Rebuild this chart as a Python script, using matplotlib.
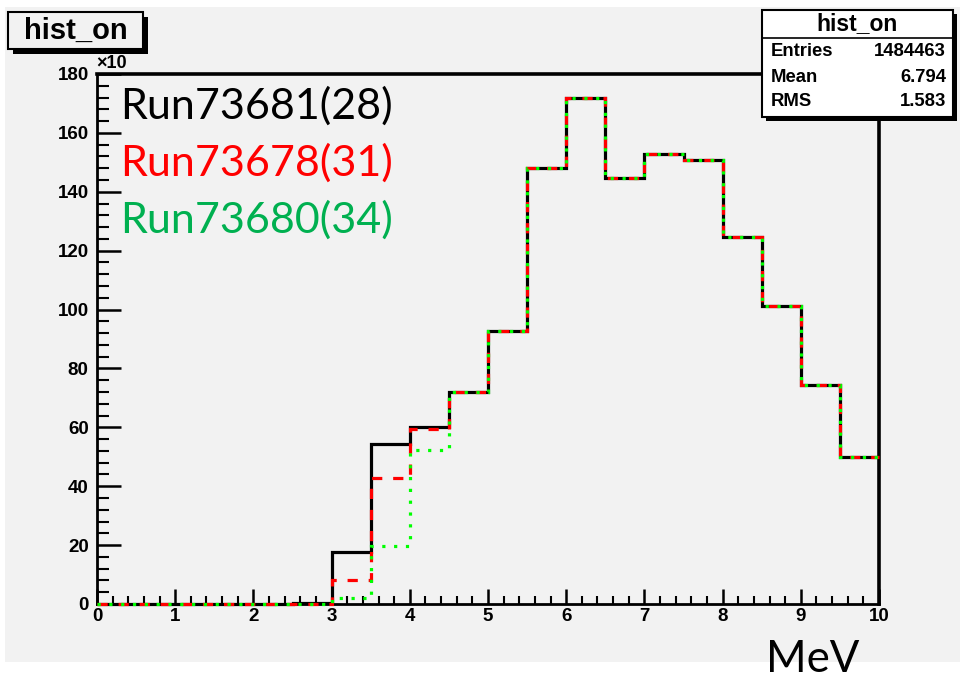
import matplotlib
matplotlib.use("Agg")
import matplotlib.pyplot as plt
import matplotlib.patches as mpatches
import numpy as np

# Histogram contents (units of x10 counts), 20 bins of 0.5 MeV from 0 to 10
bin_edges = np.linspace(0.0, 10.0, 21)
run73681 = [0, 0, 0, 0, 0, 0.4, 17.8, 54.2, 60.2, 72.0, 92.7, 148.0, 171.8, 144.8, 152.9, 150.7, 124.8, 101.1, 74.4, 50.0]
run73678 = [0, 0, 0, 0, 0, 0, 8.2, 42.7, 59.4, 72.0, 92.7, 148.0, 171.8, 144.8, 152.9, 150.7, 124.8, 101.1, 74.4, 50.0]
run73680 = [0, 0, 0, 0, 0, 0, 1.9, 19.8, 52.3, 72.0, 92.7, 148.0, 171.8, 144.8, 152.9, 150.7, 124.8, 101.1, 74.4, 50.0]
run_labels = ["Run73681(28)", "Run73678(31)", "Run73680(34)"]
run_colors = ["black", "#ff0000", "#00b050"]

hist_name = "hist_on"
stats_rows = [("Entries", "1484463"), ("Mean", "6.794"), ("RMS", "1.583")]
x_ticks = list(range(0, 11))
y_ticks = list(range(0, 181, 20))

W, H = 960, 677
BG = "#f2f2f2"
fig = plt.figure(figsize=(W / 100, H / 100), dpi=100)
fig.patch.set_facecolor("white")


def fx(x):
    return x / W


def fy(y):
    return 1 - y / H


def px_rect(x0, y0, x1, y1, **kw):
    r = mpatches.Rectangle((fx(x0), fy(y1)), fx(x1) - fx(x0), fy(y0) - fy(y1),
                           transform=fig.transFigure, **kw)
    fig.add_artist(r)
    return r


# canvas background
px_rect(5, 7, 960, 662, facecolor=BG, edgecolor="none", zorder=0)

ax = fig.add_axes([fx(97), fy(604), fx(879) - fx(97), fy(74) - fy(604)])
ax.set_facecolor(BG)
ax.set_xlim(0, 10)
ax.set_ylim(0, 180)

lw = 2.3
ax.stairs(run73681, bin_edges, color="black", lw=lw, baseline=None, zorder=3,
          clip_on=False)
ax.stairs(run73678, bin_edges, color="#ff0000", lw=lw, baseline=None, zorder=3.1,
          linestyle=(0, (3.2, 3.4)), clip_on=False)
ax.stairs(run73680, bin_edges, color="#00ff00", lw=lw, baseline=None, zorder=3.2,
          linestyle=(0, (1.0, 2.7)), clip_on=False)

for s in ["left", "bottom"]:
    ax.spines[s].set_linewidth(2.0)
for s in ["top", "right"]:
    ax.spines[s].set_linewidth(2.6)

tick_font = dict(family="Liberation Sans", weight="bold", size=13.5)
ax.set_xticks(x_ticks)
ax.set_xticklabels([str(t) for t in x_ticks], fontdict=tick_font)
ax.set_yticks(y_ticks)
ax.set_yticklabels([str(t) for t in y_ticks], fontdict=tick_font)
ax.set_xticks(np.arange(0, 10.01, 0.2), minor=True)
ax.set_yticks(np.arange(0, 180.1, 4), minor=True)
ax.tick_params(axis="x", which="major", direction="in", length=11, width=1.8, pad=3)
ax.tick_params(axis="x", which="minor", direction="in", length=5.5, width=1.5)
ax.tick_params(axis="y", which="major", direction="in", length=17, width=1.8, pad=6)
ax.tick_params(axis="y", which="minor", direction="in", length=8.5, width=1.5)
ax.tick_params(top=False, right=False, which="both")

# exponent label on y axis
fig.text(fx(96), fy(64), "\u00d710", fontsize=13, fontweight="bold",
         family="Liberation Sans", ha="left", va="center")

# run legend text
leg_font = "Lato"
for i, (lab, col) in enumerate(zip(run_labels, run_colors)):
    fig.text(fx(120), fy(106 + 57 * i), lab, color=col, fontsize=31,
             family=leg_font, ha="left", va="center")

# axis unit
fig.text(fx(766), fy(672), "MeV", fontsize=31.5, family=leg_font,
         ha="left", va="baseline")

# title box with shadow
px_rect(13, 17, 148, 54, facecolor="black", edgecolor="none", zorder=10)
px_rect(8, 12, 143, 49, facecolor=BG, edgecolor="black", lw=1.5, zorder=11)
fig.text(fx(75.5), fy(31), hist_name, fontsize=21, fontweight="bold",
         family="Liberation Sans", ha="center", va="center", zorder=12)

# statistics box with shadow
px_rect(766, 14, 957, 121, facecolor="black", edgecolor="none", zorder=10)
px_rect(762, 10, 953, 117, facecolor="white", edgecolor="black", lw=1.5, zorder=11)
fig.add_artist(plt.Line2D([fx(762), fx(953)], [fy(38), fy(38)],
                          transform=fig.transFigure, color="black", lw=1.2, zorder=12))
fig.text(fx(857.5), fy(24), hist_name, fontsize=16.5, fontweight="bold",
         family="Liberation Sans", ha="center", va="center", zorder=12)
for i, (k, v) in enumerate(stats_rows):
    yy = fy(52 + 25 * i)
    fig.text(fx(771), yy, k, fontsize=13.3, fontweight="bold",
             family="Liberation Sans", ha="left", va="center", zorder=12)
    fig.text(fx(946), yy, v, fontsize=13.3, fontweight="bold",
             family="Liberation Sans", ha="right", va="center", zorder=12)

fig.savefig("out.png", dpi=100)
